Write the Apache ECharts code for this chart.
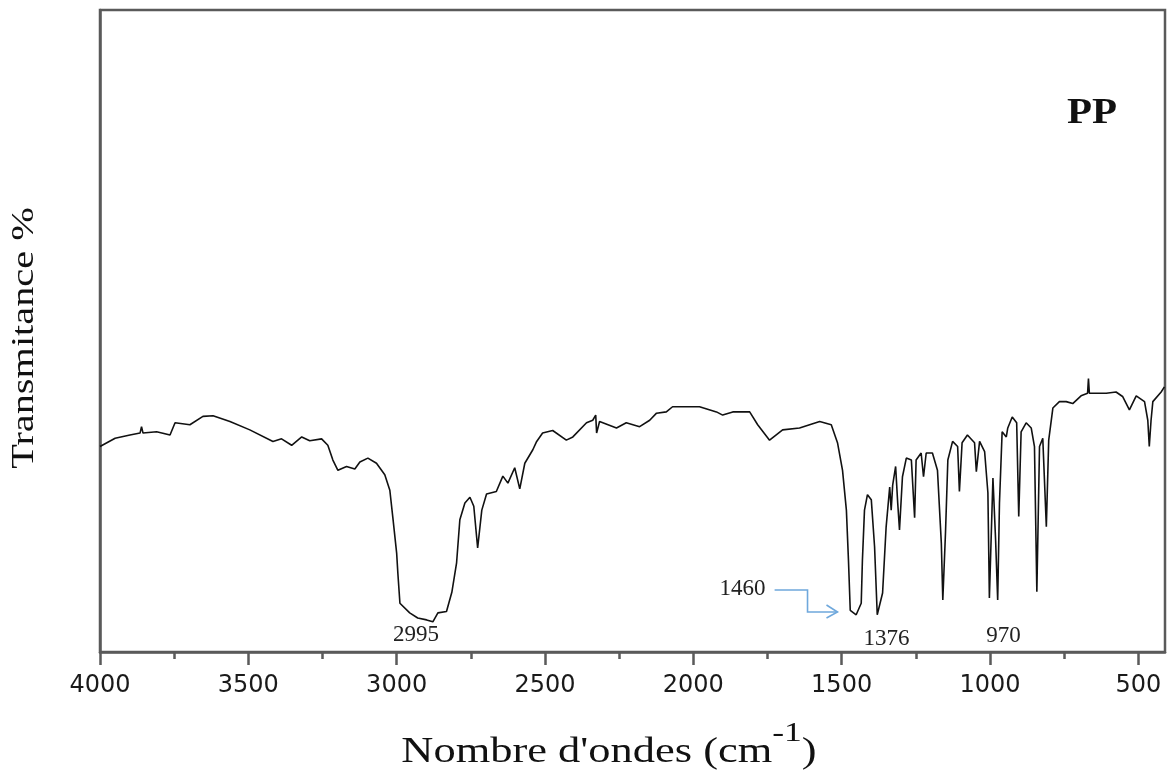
<!DOCTYPE html>
<html lang="fr">

<head>
  <meta charset="UTF-8" />
  <title>PP</title>
  <script src="https://cdn.jsdelivr.net/npm/echarts@6.0.0/dist/echarts.min.js"></script>
  <style>
    body,
    html {
      margin: 0;
      padding: 0;
      width: 100%;
      height: 100%;
      overflow: hidden;
      background: #fff;
    }

    #main {
      width: 1168px;
      height: 771px;
    }
  </style>
</head>

<body>
  <div id="main"></div>
</body>
<script>
  // spectre IR du PP (nombre d'ondes en cm-1, transmittance en unites arbitraires 0-100)
  var wavenumber = [4000, 3949, 3899, 3865, 3860, 3855, 3809, 3764, 3747, 3697, 3653, 3619, 3562, 3495, 3417, 3388,
    3354, 3320, 3293, 3253, 3232, 3215, 3198, 3169, 3141, 3124, 3097, 3068, 3040, 3023, 3013, 3000, 2996, 2989, 2956,
    2929, 2899, 2878, 2861, 2832, 2814, 2798, 2787, 2770, 2753, 2740, 2727, 2713, 2697, 2664, 2642, 2625, 2602, 2585,
    2568, 2541, 2528, 2508, 2474, 2428, 2406, 2360, 2339, 2329, 2326, 2316, 2259, 2226, 2181, 2147, 2124, 2091, 2070,
    1979, 1922, 1901, 1867, 1810, 1783, 1743, 1699, 1642, 1574, 1535, 1514, 1497, 1484, 1477, 1471, 1451, 1434, 1430,
    1423, 1413, 1400, 1389, 1380, 1362, 1350, 1338, 1333, 1328, 1318, 1311, 1305, 1295, 1282, 1265, 1254, 1249, 1232,
    1224, 1215, 1194, 1177, 1164, 1159, 1150, 1142, 1126, 1109, 1103, 1094, 1076, 1052, 1046, 1035, 1018, 1007, 1002,
    990, 981, 974, 968, 959, 945, 940, 925, 910, 903, 895, 878, 861, 850, 842, 833, 822, 810, 802, 788, 766, 743, 721,
    693, 671, 668, 665, 608, 575, 553, 530, 507, 479, 468, 463, 457, 451, 423, 412];
  var transmittance = [32.0, 33.3, 33.8, 34.1, 35.1, 34.1, 34.3, 33.8, 35.7, 35.4, 36.7, 36.8, 35.9, 34.6, 32.8, 33.2,
    32.2, 33.5, 32.9, 33.2, 32.2, 29.9, 28.3, 28.9, 28.5, 29.6, 30.2, 29.4, 27.6, 25.2, 21.0, 15.4, 12.3, 7.6, 6.1,
    5.3, 5.0, 4.7, 6.1, 6.3, 9.3, 13.9, 20.6, 23.2, 24.1, 22.7, 16.2, 22.1, 24.6, 25.0, 27.4, 26.3, 28.7, 25.4,
    29.4, 31.5, 32.8, 34.1, 34.5, 33.0, 33.5, 35.7, 36.1, 36.9, 34.1, 35.9, 34.9, 35.7, 35.1, 36.1, 37.2, 37.4, 38.2,
    38.2, 37.4, 36.9, 37.4, 37.4, 35.4, 33.0, 34.6, 34.9, 35.9, 35.4, 32.6, 28.3, 22.1, 14.3, 6.5, 5.8, 7.6, 14.3,
    22.1, 24.5, 23.7, 16.4, 5.8, 9.2, 19.5, 25.7, 22.1, 26.0, 28.9, 23.2, 19.0, 27.3, 30.2, 29.9, 20.9, 29.9, 31.0,
    27.3, 31.0, 31.0, 28.3, 17.0, 8.1, 18.5, 29.9, 32.8, 32.0, 25.0, 32.6, 33.8, 32.6, 28.1, 32.8, 31.2, 24.8, 8.4,
    27.1, 17.4, 8.1, 23.2, 34.3, 33.5, 34.9, 36.6, 35.7, 21.1, 34.3, 35.7, 34.9, 32.0, 9.4, 32.0, 33.3, 19.5, 33.0,
    38.0, 39.0, 39.0, 38.7, 39.9, 40.3, 42.6, 40.3, 40.3, 40.5, 39.8, 37.7, 39.9, 39.0, 36.1, 32.0, 36.1, 39.0, 40.5,
    41.3];

  var majorTicks = [4000, 3500, 3000, 2500, 2000, 1500, 1000, 500];
  var minorTicks = [3750, 3250, 2750, 2250, 1750, 1250, 750];
  var peakLabels = ['2995', '1460', '1376', '970'];

  var specData = wavenumber.map(function (w, i) {
    return [w, transmittance[i]];
  });

  var axisColor = '#5a5a5a';

  var option = {
    backgroundColor: '#fff',
    animation: false,
    grid: {
      left: 100,
      right: 3,
      top: 10,
      bottom: 119,
      show: true,
      borderColor: axisColor,
      borderWidth: 2.5
    },
    xAxis: [{
      type: 'value',
      min: 410,
      max: 4000,
      inverse: true,
      axisLine: {
        show: true,
        lineStyle: { color: axisColor, width: 2.5 }
      },
      axisTick: {
        show: true,
        inside: false,
        length: 13,
        customValues: majorTicks,
        lineStyle: { color: axisColor, width: 2.5 }
      },
      axisLabel: {
        show: true,
        customValues: majorTicks,
        margin: 22,
        color: '#1a1a1a',
        fontFamily: 'DejaVu Sans',
        fontSize: 24,
        formatter: function (v) {
          return String(v);
        }
      },
      splitLine: { show: false }
    }, {
      type: 'value',
      position: 'bottom',
      min: 410,
      max: 4000,
      inverse: true,
      axisLine: { show: false },
      axisTick: {
        show: true,
        inside: false,
        length: 7,
        customValues: minorTicks,
        lineStyle: { color: axisColor, width: 2.5 }
      },
      axisLabel: { show: false },
      splitLine: { show: false }
    }],
    yAxis: {
      type: 'value',
      min: 0,
      max: 100,
      axisLine: {
        show: true,
        lineStyle: { color: axisColor, width: 2.5 }
      },
      axisTick: { show: false },
      axisLabel: { show: false },
      splitLine: { show: false }
    },
    series: [{
      name: 'PP',
      type: 'line',
      data: specData,
      showSymbol: false,
      symbol: 'none',
      lineStyle: { color: '#111', width: 1.6 },
      z: 3
    }]
  };

  var chart = echarts.init(document.getElementById('main'));
  chart.setOption(option);

  function toPx(p) {
    return chart.convertToPixel({ xAxisIndex: 0, yAxisIndex: 0 }, p);
  }

  function label(text, at, size) {
    var p = toPx(at);
    return {
      type: 'text',
      x: p[0],
      y: p[1],
      z: 10,
      style: {
        text: text,
        font: size + 'px "Liberation Serif"',
        fill: '#222',
        align: 'center',
        verticalAlign: 'middle',
        textAlign: 'center',
        textVerticalAlign: 'middle'
      }
    };
  }

  // position des etiquettes des pics (en coordonnees du graphe)
  var labelAt = [[2935, 2.6], [1834, 9.8], [1349, 2.0], [954, 2.5]];
  var elements = peakLabels.map(function (t, i) {
    return label(t, labelAt[i], 23);
  });

  // fleche bleue vers le pic 1460
  var arrowPts = [[1726, 9.66], [1615, 9.66], [1615, 6.23], [1514, 6.23]].map(toPx);
  var tip = arrowPts[arrowPts.length - 1];
  elements.push({
    type: 'polyline',
    z: 10,
    shape: { points: arrowPts },
    style: { stroke: '#6fa8dc', lineWidth: 1.6, fill: null }
  });
  elements.push({
    type: 'polyline',
    z: 10,
    shape: { points: [[tip[0] - 11, tip[1] - 7], tip, [tip[0] - 11, tip[1] + 6]] },
    style: { stroke: '#6fa8dc', lineWidth: 1.6, fill: null }
  });

  // PP
  elements.push({
    type: 'text',
    x: 1092,
    y: 114,
    scaleX: 1.17,
    z: 10,
    style: {
      text: 'PP',
      font: 'bold 35px "Liberation Serif"',
      fill: '#111',
      align: 'center',
      verticalAlign: 'middle',
      textAlign: 'center',
      textVerticalAlign: 'middle'
    }
  });

  // titre axe x
  elements.push({
    type: 'text',
    x: 609,
    y: 745,
    scaleX: 1.27,
    z: 10,
    style: {
      text: "{a|Nombre d'ondes (cm}{s|-1}{a|)}",
      align: 'center',
      verticalAlign: 'middle',
      textAlign: 'center',
      textVerticalAlign: 'middle',
      rich: {
        a: {
          fontFamily: 'Liberation Serif',
          fontSize: 35,
          fill: '#111',
          lineHeight: 50,
          verticalAlign: 'bottom'
        },
        s: {
          fontFamily: 'Liberation Serif',
          fontSize: 28,
          fill: '#111',
          lineHeight: 50,
          verticalAlign: 'top'
        }
      }
    }
  });

  // titre axe y
  elements.push({
    type: 'text',
    x: 25,
    y: 338,
    rotation: Math.PI / 2,
    scaleX: 1.26,
    z: 10,
    style: {
      text: 'Transmitance %',
      font: '32px "Liberation Serif"',
      fill: '#111',
      align: 'center',
      verticalAlign: 'middle',
      textAlign: 'center',
      textVerticalAlign: 'middle'
    }
  });

  chart.setOption({ graphic: { elements: elements } });
</script>

</html>
